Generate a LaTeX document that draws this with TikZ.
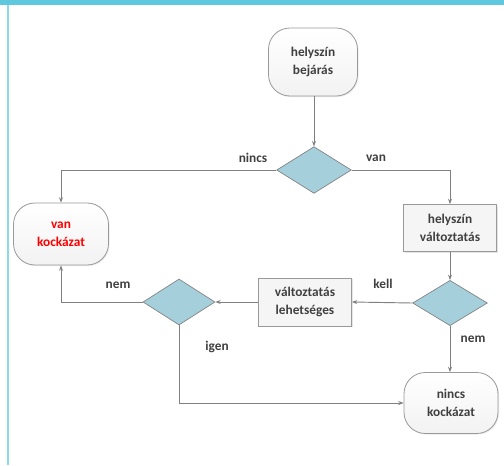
\documentclass[tikz,border=0pt]{standalone}
\usepackage{fontspec}
\setmainfont{Carlito}
\usetikzlibrary{shapes.geometric,arrows.meta,shadows}
\definecolor{diafill}{RGB}{166,207,220}
\definecolor{linegray}{RGB}{128,128,128}
\definecolor{txt}{RGB}{64,64,64}
\definecolor{cyanbar}{RGB}{96,200,222}
\definecolor{cyanline}{RGB}{140,218,232}
\begin{document}
\begin{tikzpicture}[x=0.75pt,y=-0.75pt,
  every node/.style={font=\bfseries\fontsize{10}{13.5}\selectfont, text=txt, align=center},
  term/.style={rounded corners=16pt, draw=linegray!80, top color=white, bottom color=gray!10, line width=0.6pt, minimum width=70pt, minimum height=48pt, inner sep=0pt, drop shadow={opacity=0.15, shadow xshift=0.8pt, shadow yshift=-0.8pt}},
  procbox/.style={rectangle, draw=linegray!80, fill=gray!8, line width=0.6pt, minimum width=70pt, minimum height=36pt, inner sep=0pt, drop shadow={opacity=0.2, shadow xshift=1pt, shadow yshift=-1pt}},
  decision/.style={diamond, draw=linegray, fill=diafill, line width=0.5pt, aspect=1.6, minimum width=56pt, minimum height=35pt, inner sep=0pt},
  conn/.style={draw=linegray, line width=0.7pt, -{Stealth[length=4pt,width=3pt]}},
  lbl/.style={font=\bfseries\fontsize{10}{12}\selectfont}
]
\useasboundingbox (0,0) rectangle (504,465);
\fill[white] (0,0) rectangle (504,465);
\fill[cyanbar] (0,0) rectangle (504,5);
\fill[cyanline] (7,5) rectangle (9,465);

\node[term, minimum width=66.75pt, minimum height=51pt] (start) at (313,62) {helyszín\\bejárás};
\node[decision, minimum width=56pt, minimum height=35pt] (d1) at (314,170) {};
\node[term, minimum width=71.25pt, minimum height=46.5pt] (van) at (61,234) {\textcolor{red}{van}\\\textcolor{red}{kockázat}};
\node[procbox, minimum width=69.75pt, minimum height=35.25pt] (hv) at (450,228) {helyszín\\változtatás};
\node[decision, minimum width=56pt, minimum height=34pt] (d3) at (450,303) {};
\node[procbox, minimum width=69.75pt, minimum height=36pt] (vl) at (305,302) {változtatás\\lehetséges};
\node[decision, minimum width=54pt, minimum height=34.5pt] (d2) at (179,302) {};
\node[term, minimum width=70.5pt, minimum height=45.75pt] (nincs) at (451,403) {nincs\\kockázat};

\coordinate (c1) at (61,170);
\coordinate (c2) at (450,170);
\coordinate (c3) at (179,403);

\draw[conn] (start.south -| d1) -- (d1.north);
\draw[conn] (d1.west) -- (c1) -- (van.north);
\draw[conn] (d1.east) -- (c2) -- (hv.north);
\draw[conn] (hv) -- (d3);
\draw[conn] (d3.west) -- (vl.east);
\draw[conn] (vl.west) -- (d2.east);
\draw[conn] (d2.west) -| (van.south);
\draw[conn] (d3.south) -- (d3.south |- nincs.north);
\draw[conn] (d2.south) -- (c3) -- (nincs.west);

\node[lbl] (l1) at (253,158) {nincs};
\node[lbl] (l2) at (376,158) {van};
\node[lbl] (l3) at (118,285) {nem};
\node[lbl] (l4) at (383,284) {kell};
\node[lbl] (l5) at (473,339) {nem};
\node[lbl] (l6) at (217,347) {igen};
\end{tikzpicture}
\end{document}
